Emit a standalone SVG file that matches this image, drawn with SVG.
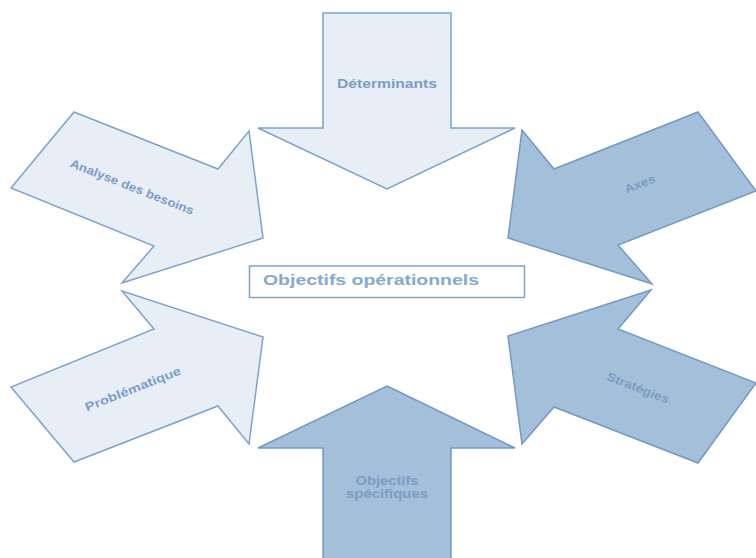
<svg xmlns="http://www.w3.org/2000/svg" width="756" height="558" viewBox="0 0 756 558">
<style>
.light{fill:#e8eef6;stroke:#7ea3cb;stroke-width:1.5;stroke-linejoin:miter}
.dark{fill:#a3bfda;stroke:#7499c4;stroke-width:1.5;stroke-linejoin:miter}
.lbl{font-family:"Liberation Sans",Arial,sans-serif;font-weight:bold;font-size:12px;fill:#7b9dc6;text-anchor:middle}
.dlbl{font-family:"Liberation Sans",Arial,sans-serif;font-weight:bold;font-size:12px;fill:#7c9cc3;text-anchor:middle}
</style>
<rect width="756" height="558" fill="#ffffff"/>
<g id="determinants">
<polygon class="light" points="323,13 451,13 451,128 515,128 387,189 258,128 323,128"/>
<text class="lbl" x="387" y="88" textLength="100" lengthAdjust="spacingAndGlyphs">Déterminants</text>
</g>
<g id="analyse">
<polygon class="light" points="74,112 218,169 249,131 263,238 122,283 154,246 11,188"/>
<text class="lbl" transform="translate(132,187) rotate(21.6)" x="0" y="4" textLength="132" lengthAdjust="spacingAndGlyphs">Analyse des besoins</text>
</g>
<g id="axes">
<polygon class="dark" points="522,130 554,169 698,112 756,191 618,245 652,284 508,238"/>
<text class="dlbl" transform="translate(640,184) rotate(-21.6)" x="0" y="4" textLength="32" lengthAdjust="spacingAndGlyphs">Axes</text>
</g>
<g id="problematique">
<polygon class="light" points="122,291 154,329 11,387 74,462 218,406 249,444 263,337"/>
<text class="lbl" transform="translate(133,389) rotate(-21.6)" x="0" y="4" textLength="102" lengthAdjust="spacingAndGlyphs">Problématique</text>
</g>
<g id="strategies">
<polygon class="dark" points="651,290 508,336 522,444 554,407 698,463 756,383 618,329"/>
<text class="dlbl" transform="translate(638,388) rotate(21.6)" x="0" y="4" textLength="66" lengthAdjust="spacingAndGlyphs">Stratégies</text>
</g>
<g id="objectifs-specifiques">
<polygon class="dark" points="387,386 515,448 451,448 451,560 323,560 323,448 258,448"/>
<text class="dlbl" x="387" y="485" textLength="63" lengthAdjust="spacingAndGlyphs">Objectifs</text>
<text class="dlbl" x="387" y="498" textLength="82" lengthAdjust="spacingAndGlyphs">spécifiques</text>
</g>
<g id="objectifs-operationnels">
<rect x="249.5" y="266" width="275" height="31.5" fill="#ffffff" stroke="#7ea3cb" stroke-width="1.5"/>
<text x="263" y="284.5" font-family="Liberation Sans,Arial,sans-serif" font-weight="bold" font-size="15" fill="#87a8cf" textLength="216" lengthAdjust="spacingAndGlyphs">Objectifs opérationnels</text>
</g>
<g id="connectors"></g>
</svg>
